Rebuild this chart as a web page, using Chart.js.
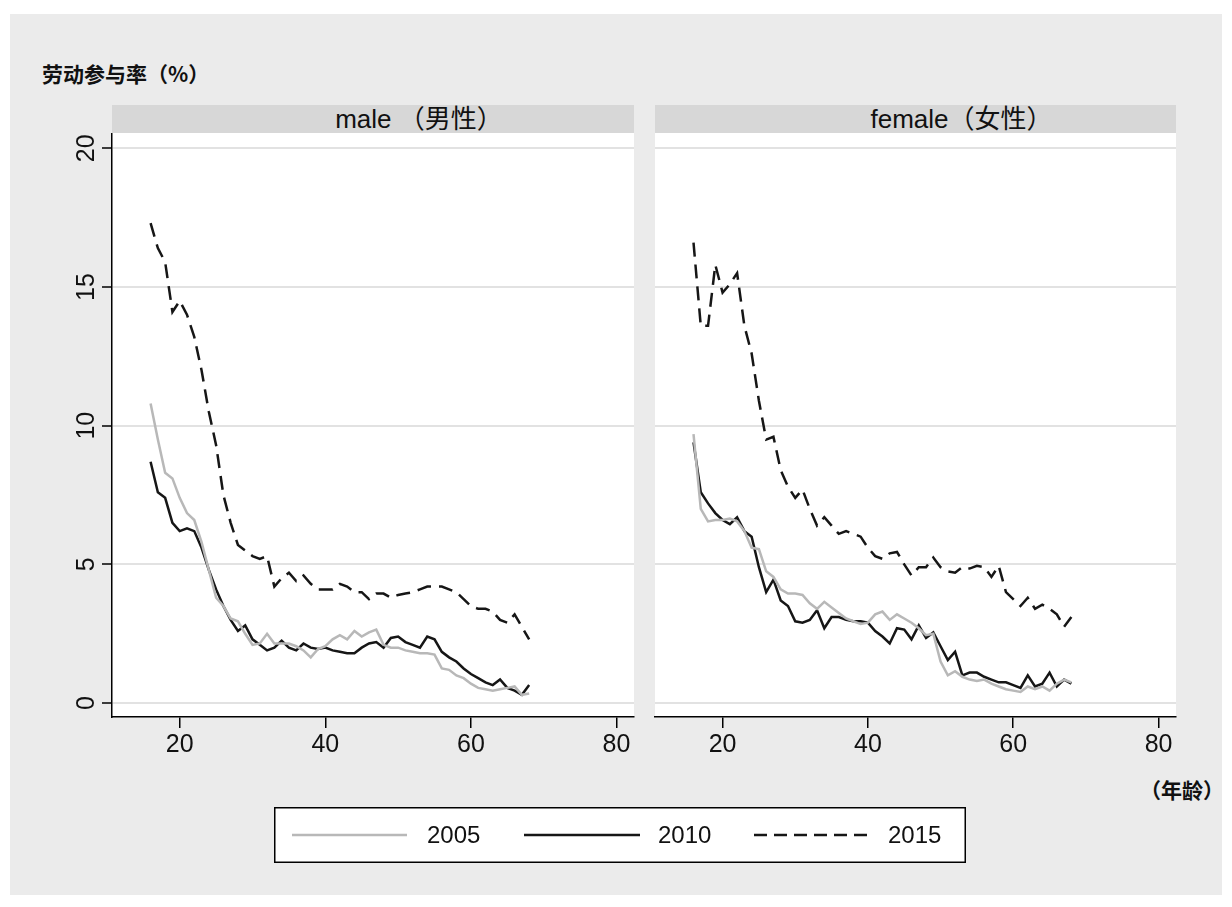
<!DOCTYPE html>
<html>
<head>
<meta charset="utf-8">
<script src="https://cdn.jsdelivr.net/npm/chart.js@4.4.1/dist/chart.umd.min.js"></script>
<style>
  body { margin: 0; background: #ffffff; font-family: "Liberation Sans", "Noto Sans CJK SC", sans-serif; color: #111; }
  #page { position: relative; width: 1232px; height: 907px; overflow: hidden; }
  .bg { position: absolute; left: 10px; top: 14px; width: 1212px; height: 881px; background: #ebebeb; }
  .strip { position: absolute; top: 105px; height: 28px; background: #d7d7d7; text-align: center; font-size: 26px; line-height: 28px; box-sizing: border-box; padding-left: 92px; }
  .txt { position: absolute; font-family: "Noto Sans CJK SC", sans-serif; font-size: 21px; font-weight: bold; }
  canvas.panel { position: absolute; top: 133px; }
  #legend { position: absolute; left: 274px; top: 807px; }
</style>
</head>
<body>
<div id="page">
  <div class="bg"></div>
  <div class="txt" style="left:42px; top:58px;">劳动参与率（%）</div>
  <div class="strip" style="left:112px; width:522px;">male （男性）</div>
  <div class="strip" style="left:655px; width:521px;">female（女性）</div>
  <canvas id="male" class="panel" width="600" height="627" style="left:40px;"></canvas>
  <canvas id="female" class="panel" width="545" height="627" style="left:645px;"></canvas>
  <div class="txt" style="left:1140px; top:774px;">（年龄）</div>
  <canvas id="legend" width="692" height="56"></canvas>
</div>
<script>
// ages 16..68
const ages = [16, 17, 18, 19, 20, 21, 22, 23, 24, 25, 26, 27, 28, 29, 30, 31, 32, 33, 34, 35,
  36, 37, 38, 39, 40, 41, 42, 43, 44, 45, 46, 47, 48, 49, 50, 51, 52, 53, 54, 55,
  56, 57, 58, 59, 60, 61, 62, 63, 64, 65, 66, 67, 68];

const years = ['2005', '2010', '2015'];
const xTicks = [20, 40, 60, 80];
const yTicks = [0, 5, 10, 15, 20];

// male (男性)
const male2005 = [10.8, 9.5, 8.3, 8.1, 7.4, 6.85, 6.6, 5.8, 4.8, 3.8,
  3.5, 3.05, 2.95, 2.5, 2.1, 2.15, 2.5, 2.15, 2.15, 2.15,
  2.05, 1.9, 1.65, 1.95, 2.05, 2.3, 2.45, 2.3, 2.6, 2.4,
  2.55, 2.65, 2.1, 2.0, 2.0, 1.9, 1.85, 1.8, 1.8, 1.75,
  1.25, 1.2, 1.0, 0.9, 0.7, 0.55, 0.5, 0.45, 0.5, 0.55,
  0.6, 0.3, 0.35];
const male2010 = [8.7, 7.6, 7.4, 6.5, 6.2, 6.3, 6.2, 5.6, 4.8, 4.1,
  3.5, 3.0, 2.6, 2.8, 2.3, 2.1, 1.9, 2.0, 2.25, 2.0,
  1.9, 2.15, 2.0, 1.95, 2.0, 1.9, 1.85, 1.8, 1.8, 2.0,
  2.15, 2.2, 2.0, 2.35, 2.4, 2.2, 2.1, 2.0, 2.4, 2.3,
  1.85, 1.65, 1.5, 1.25, 1.05, 0.9, 0.75, 0.65, 0.85, 0.55,
  0.45, 0.3, 0.65];
const male2015 = [17.3, 16.4, 15.9, 14.1, 14.5, 14.0, 13.2, 12.0, 10.5, 9.3,
  7.5, 6.5, 5.7, 5.5, 5.3, 5.2, 5.3, 4.2, 4.5, 4.7,
  4.4, 4.6, 4.3, 4.1, 4.1, 4.1, 4.3, 4.2, 4.0, 4.0,
  3.75, 3.95, 3.95, 3.8, 3.9, 3.95, 4.0, 4.1, 4.2, 4.2,
  4.2, 4.1, 4.0, 3.75, 3.5, 3.4, 3.4, 3.3, 3.0, 2.9,
  3.2, 2.75, 2.3];

// female (女性)
const female2005 = [9.7, 7.0, 6.55, 6.6, 6.6, 6.65, 6.55, 6.2, 5.6, 5.55,
  4.75, 4.55, 4.1, 3.95, 3.95, 3.9, 3.6, 3.4, 3.65, 3.45,
  3.25, 3.05, 2.95, 2.85, 2.9, 3.2, 3.3, 3.0, 3.2, 3.05,
  2.9, 2.7, 2.45, 2.5, 1.5, 1.0, 1.15, 0.95, 0.85, 0.8,
  0.85, 0.7, 0.6, 0.5, 0.45, 0.4, 0.6, 0.5, 0.6, 0.45,
  0.7, 0.85, 0.75];
const female2010 = [9.4, 7.6, 7.2, 6.85, 6.6, 6.45, 6.7, 6.2, 6.0, 4.9,
  4.0, 4.45, 3.7, 3.5, 2.95, 2.9, 3.0, 3.35, 2.7, 3.1,
  3.1, 3.0, 2.95, 2.95, 2.9, 2.6, 2.4, 2.15, 2.7, 2.65,
  2.3, 2.8, 2.35, 2.55, 2.05, 1.55, 1.85, 1.0, 1.1, 1.1,
  0.95, 0.85, 0.75, 0.75, 0.65, 0.55, 1.0, 0.6, 0.7, 1.1,
  0.6, 0.85, 0.7];
const female2015 = [16.6, 13.6, 13.6, 15.8, 14.8, 15.1, 15.5, 13.6, 12.6, 10.9,
  9.5, 9.6, 8.4, 7.8, 7.4, 7.7, 7.0, 6.4, 6.7, 6.4,
  6.1, 6.2, 6.1, 6.0, 5.6, 5.3, 5.2, 5.4, 5.45, 5.0,
  4.6, 4.9, 4.9, 5.25, 4.9, 4.75, 4.7, 4.9, 4.85, 4.95,
  4.9, 4.55, 4.95, 4.0, 3.75, 3.5, 3.8, 3.4, 3.55, 3.4,
  3.2, 2.75, 3.1];

const styles = {
  '2005': { borderColor: '#b8b8b8', borderWidth: 2.5 },
  '2010': { borderColor: '#161616', borderWidth: 2.5 },
  '2015': { borderColor: '#161616', borderWidth: 2.5, borderDash: [14, 8] }
};

const FONT = '"Liberation Sans", Arial, sans-serif';

function toPoints(values) {
  return values.map((v, i) => ({ x: ages[i], y: v }));
}

function makeDatasets(series) {
  return years.map((yr, i) => Object.assign({
    label: yr,
    data: toPoints(series[i]),
    pointRadius: 0,
    tension: 0,
    fill: false
  }, styles[yr]));
}

// white plot region + rotated y tick labels
const panelPlugin = {
  id: 'panel',
  beforeDraw(chart) {
    const a = chart.chartArea;
    const ctx = chart.ctx;
    ctx.save();
    ctx.fillStyle = '#ffffff';
    ctx.fillRect(a.left, a.top, a.right - a.left, a.bottom - a.top);
    ctx.restore();
  },
  afterDraw(chart, args, opts) {
    if (!opts.yLabels) return;
    const ctx = chart.ctx;
    const y = chart.scales.y;
    ctx.save();
    ctx.fillStyle = '#111';
    ctx.font = '25px ' + FONT;
    ctx.textAlign = 'center';
    ctx.textBaseline = 'middle';
    yTicks.forEach(v => {
      ctx.save();
      ctx.translate(chart.chartArea.left - 25, y.getPixelForValue(v));
      ctx.rotate(-Math.PI / 2);
      ctx.fillText(String(v), 0, 0);
      ctx.restore();
    });
    ctx.restore();
  }
};

function makeChart(id, series, withAxis) {
  new Chart(document.getElementById(id), {
    type: 'line',
    data: { datasets: makeDatasets(series) },
    plugins: [panelPlugin],
    options: {
      responsive: false,
      animation: false,
      devicePixelRatio: 1,
      layout: { padding: { left: withAxis ? 0 : 10, right: withAxis ? 6 : 14, top: 0, bottom: 0 } },
      plugins: {
        legend: { display: false },
        tooltip: { enabled: false },
        panel: { yLabels: withAxis }
      },
      scales: {
        x: {
          type: 'linear',
          min: 10.7,
          max: 82.4,
          afterBuildTicks: s => { s.ticks = xTicks.map(v => ({ value: v })); },
          afterFit: s => { s.height = 43; },
          grid: { drawOnChartArea: false, color: '#000', lineWidth: 1.5, tickLength: 11 },
          border: { color: '#000', width: 1.5 },
          ticks: { color: '#111', font: { family: FONT, size: 25 }, padding: 2, maxRotation: 0 }
        },
        y: {
          min: -0.5,
          max: 20.55,
          afterBuildTicks: s => { s.ticks = yTicks.map(v => ({ value: v })); },
          afterFit: s => { s.width = withAxis ? 72 : 0; },
          ticks: { display: false },
          grid: {
            color: '#e2e2e2', lineWidth: 2,
            drawTicks: withAxis, tickColor: '#000', tickWidth: 1.5, tickLength: 10
          },
          border: { display: withAxis, color: '#000', width: 1.5 }
        }
      }
    }
  });
}

makeChart('male', [male2005, male2010, male2015], true);
makeChart('female', [female2005, female2010, female2015], false);

// legend box
(function drawLegend() {
  const c = document.getElementById('legend');
  const ctx = c.getContext('2d');
  ctx.fillStyle = '#fff';
  ctx.fillRect(0, 0, c.width, c.height);
  ctx.strokeStyle = '#000';
  ctx.lineWidth = 1.5;
  ctx.strokeRect(0.75, 0.75, c.width - 1.5, c.height - 1.5);
  const items = [
    { yr: '2005', x0: 18, x1: 133, tx: 153 },
    { yr: '2010', x0: 250, x1: 366, tx: 384 },
    { yr: '2015', x0: 480, x1: 597, tx: 614 }
  ];
  const ym = 28;
  ctx.font = '24px ' + FONT;
  ctx.textBaseline = 'middle';
  items.forEach(it => {
    const st = styles[it.yr];
    ctx.save();
    ctx.strokeStyle = st.borderColor;
    ctx.lineWidth = 2.5;
    ctx.setLineDash(st.borderDash ? [13, 7] : []);
    ctx.beginPath();
    ctx.moveTo(it.x0, ym);
    ctx.lineTo(it.x1, ym);
    ctx.stroke();
    ctx.restore();
    ctx.fillStyle = '#111';
    ctx.fillText(it.yr, it.tx, ym + 1);
  });
})();
</script>
</body>
</html>
